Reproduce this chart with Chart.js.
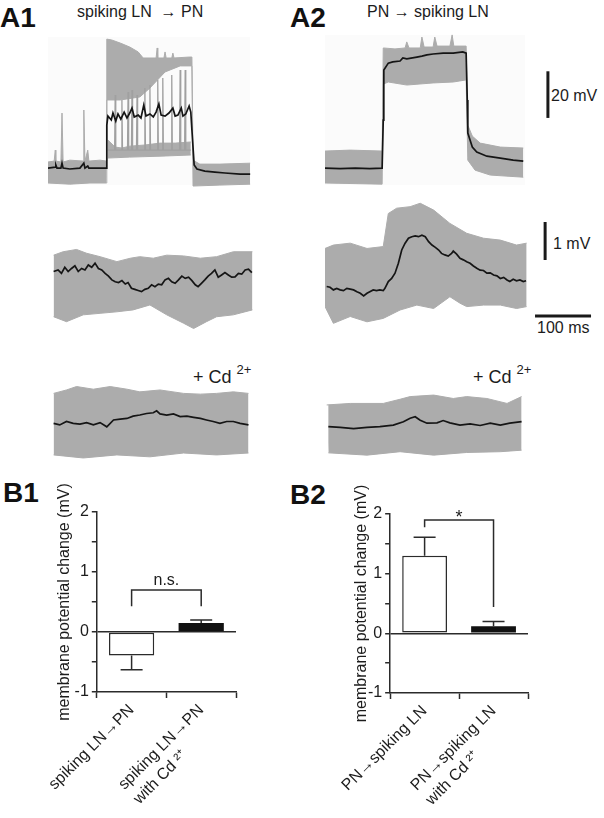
<!DOCTYPE html>
<html>
<head>
<meta charset="utf-8">
<script src="https://cdn.jsdelivr.net/npm/chart.js@4.4.0/dist/chart.umd.min.js"></script>
<style>
  body { margin: 0; width: 604px; height: 818px; position: relative; overflow: hidden; background: #fff;
         font-family: 'Liberation Sans', Arial, sans-serif; color: #1c1c1c; }
  canvas, .txt, .bg { position: absolute; }
  .txt { line-height: 1; white-space: pre; }
  .panel { font-size: 28px; font-weight: bold; color: #111; }
  .head { font-size: 16px; }
  .bar-lbl { font-size: 16px; }
  .cd { font-size: 18px; }
  .cd sup { font-size: 13px; vertical-align: 9px; line-height: 0; }
  .bg { background: #fbfbfb; }
</style>
</head>
<body>

<div class="bg" style="left:48px; top:37px; width:202px; height:148px;"></div>
<div class="bg" style="left:325px; top:35px; width:200px; height:150px;"></div>

<div class="txt panel" style="left:0px; top:4px;">A1</div>
<div class="txt panel" style="left:290px; top:4px;">A2</div>
<div class="txt panel" style="left:3px; top:479px;">B1</div>
<div class="txt panel" style="left:290px; top:481px;">B2</div>

<div class="txt head" style="left:77px; top:4px;">spiking LN  → PN</div>
<div class="txt head" style="left:367px; top:4px;">PN → spiking LN</div>

<div class="txt bar-lbl" style="left:551px; top:88px;">20 mV</div>
<div class="txt bar-lbl" style="left:553px; top:236px;">1 mV</div>
<div class="txt bar-lbl" style="left:537px; top:320px;">100 ms</div>

<div class="txt cd" style="left:193px; top:368px;">+ Cd <sup>2+</sup></div>
<div class="txt cd" style="left:473px; top:368px;">+ Cd <sup>2+</sup></div>

<canvas id="a1Top" width="210" height="160" style="left:48px; top:30px;"></canvas>
<canvas id="a2Top" width="275" height="160" style="left:325px; top:30px;"></canvas>
<canvas id="a1Mid" width="210" height="100" style="left:48px; top:240px;"></canvas>
<canvas id="a2Mid" width="275" height="137" style="left:325px; top:198px;"></canvas>
<canvas id="a1Bot" width="210" height="85" style="left:48px; top:380px;"></canvas>
<canvas id="a2Bot" width="275" height="72" style="left:325px; top:388px;"></canvas>
<canvas id="b1" width="210" height="338" style="left:35px; top:480px;"></canvas>
<canvas id="b2" width="211" height="338" style="left:328px; top:480px;"></canvas>

<script>
// ── traces: [time (ms), membrane potential (mV)] ──

// A1 top: spiking LN current step, recorded in LN (mean + spread of trials)
const A1_TOP_MEAN = [[0,0],[13,0.4],[14,1.3],[16,0],[23,0],[25,2.1],[27,0],[39,-0.4],[57,0],[64,2.1],[66,0],[71,0.9],[73,0],[93,0],[104,0],
  [105,18.4],[107,22.3],[113,20.6],[116,23.6],[121,20.2],[125,23.2],[130,21.0],[136,24.0],[141,21.5],[146,23.6],[150,25.7],[154,21.9],
  [161,22.7],[166,21.5],[171,27.0],[175,22.3],[182,23.2],[188,21.9],[193,24.0],[198,27.5],[202,22.7],[209,22.3],[216,23.6],[223,25.7],
  [227,22.3],[232,22.7],[238,25.7],[241,22.3],[246,23.2],[252,26.6],[255,24.0],[257,16.3],[261,1.3],[266,-0.4],[280,-1.3],[298,-1.7],
  [316,-2.1],[343,-2.6],[361,-2.6]];
const A1_TOP_UPPER = [[0,2.6],[11,3.0],[13,7.7],[14,3.0],[23,2.6],[25,23.6],[27,2.6],[39,3.4],[63,3.0],[64,24.9],[66,3.0],[71,7.7],[73,3.0],
  [93,3.4],[104,3.0],[105,55.3],[114,54.9],[129,53.6],[146,51.9],[161,49.8],[170,47.2],[193,47.2],[195,51.5],[196,47.2],[207,47.2],
  [209,49.8],[211,47.2],[221,47.2],[223,49.3],[225,47.2],[252,47.6],[257,47.6],[259,3.4],[271,1.7],[307,1.7],[361,2.1]];
const A1_TOP_LOWER = [[0,-6.4],[39,-6.9],[75,-6.4],[104,-6.4],[105,29.2],[129,29.2],[164,30.5],[182,34.3],[209,41.2],[236,43.8],[257,43.8],
  [259,-7.7],[307,-7.3],[361,-6.9]];
const A1_TOP_LOW_UPPER = [[107,12.0],[120,9.0],[132,8.6],[146,9.4],[173,9.9],[200,10.7],[227,10.7],[255,11.2]];
const A1_TOP_LOW_LOWER = [[107,4.3],[146,4.7],[200,5.1],[255,5.6]];
const A1_SPIKE_T = [120, 132, 143, 150, 159, 173, 182, 196, 205, 221, 236, 245];
const A1_SPIKE_PEAK = [31.3, 29.2, 32.6, 33.5, 31.3, 34.3, 35.6, 37.8, 38.6, 39.9, 42.0, 42.0];
const A1_SPIKE_BASE = 7.7;

// A2 top: PN current step
const A2_TOP_MEAN = [[0,0],[27,-0.2],[54,0],[80,-0.2],[102,0],[104,20.6],[105,42.0],[113,45.0],[121,45.5],[134,45.9],[139,47.2],[146,46.8],
  [164,47.6],[173,48.0],[182,48.5],[193,48.9],[211,49.3],[229,49.3],[246,49.8],[252,49.3],[254,29.2],[255,15.0],[263,9.0],[271,6.9],
  [289,5.1],[313,4.3],[336,3.4],[354,3.0]];
const A2_TOP_UPPER = [[0,7.3],[45,7.7],[102,7.3],[104,51.5],[125,51.1],[143,51.5],[146,54.1],[150,51.5],[170,51.5],[173,56.2],[177,51.9],
  [193,51.9],[196,56.2],[200,52.3],[223,52.3],[227,57.1],[230,52.3],[252,52.3],[255,18.4],[263,13.7],[277,10.7],[313,9.0],[354,8.6]];
const A2_TOP_LOWER = [[0,-6.4],[102,-6.9],[104,36.0],[113,36.9],[146,35.6],[193,36.5],[229,36.9],[252,37.8],[255,3.4],[268,-0.9],
  [295,-3.0],[354,-3.9]];

// A1 / A2 middle: postsynaptic response
const A1_MID_MEAN = [[10,-0.04],[18,0],[24,-0.09],[30,0.07],[36,-0.04],[42,0.04],[48,0.11],[54,-0.04],[60,0.04],[66,0],[72,0.13],[78,0.07],
  [84,0.18],[90,0.04],[96,0],[102,-0.09],[108,-0.16],[114,-0.26],[120,-0.31],[126,-0.33],[132,-0.28],[138,-0.37],[143,-0.33],[149,-0.48],
  [155,-0.51],[161,-0.54],[167,-0.57],[173,-0.51],[179,-0.48],[185,-0.39],[191,-0.44],[197,-0.37],[203,-0.39],[209,-0.26],[215,-0.22],
  [221,-0.31],[227,-0.35],[233,-0.26],[239,-0.16],[245,-0.22],[251,-0.19],[257,-0.28],[263,-0.39],[268,-0.44],[274,-0.35],[280,-0.26],
  [286,-0.16],[292,-0.09],[298,0],[304,-0.19],[310,-0.13],[316,-0.07],[322,-0.13],[328,-0.19],[334,-0.18],[340,-0.09],[346,-0.11],
  [352,0],[358,0.02],[364,-0.07]];
const A1_MID_UPPER = [[10,0.39],[27,0.48],[51,0.54],[69,0.44],[93,0.35],[123,0.22],[147,0.31],[164,0.35],[188,0.31],[212,0.39],[242,0.37],
  [272,0.31],[301,0.35],[331,0.48],[365,0.48]];
const A1_MID_LOWER = [[10,-1.23],[33,-1.36],[63,-1.18],[93,-1.14],[123,-1.10],[152,-1.05],[182,-0.92],[212,-1.18],[242,-1.40],[260,-1.54],
  [283,-1.36],[301,-1.23],[331,-1.18],[365,-1.05]];

const A2_MID_MEAN = [[3,0.04],[9,0.02],[15,-0.05],[21,-0.01],[27,-0.05],[33,-0.07],[39,-0.01],[45,-0.03],[51,-0.05],[57,-0.10],[63,-0.14],
  [69,-0.21],[75,-0.14],[80,-0.10],[86,-0.05],[92,-0.07],[98,-0.05],[104,-0.07],[107,-0.01],[113,0.17],[119,0.25],[125,0.39],[131,0.65],
  [137,1.00],[143,1.18],[149,1.31],[155,1.35],[161,1.37],[167,1.35],[173,1.39],[179,1.35],[185,1.22],[191,1.13],[197,1.07],[203,1.00],
  [208,0.91],[214,0.87],[220,0.84],[226,0.91],[229,0.97],[235,0.89],[241,0.78],[247,0.74],[253,0.69],[259,0.65],[265,0.58],[271,0.52],
  [277,0.47],[283,0.46],[289,0.39],[295,0.40],[301,0.34],[307,0.32],[313,0.25],[319,0.28],[325,0.21],[330,0.17],[336,0.23],[342,0.19],
  [348,0.21],[354,0.17],[359,0.19]];
const A2_MID_UPPER = [[0,1.04],[15,1.13],[45,1.18],[75,1.04],[104,1.09],[113,1.96],[128,2.10],[152,2.14],[170,2.23],[194,2.05],[223,1.70],
  [253,1.44],[283,1.31],[313,1.26],[342,1.13],[360,1.18]];
const A2_MID_LOWER = [[0,-0.49],[15,-0.93],[45,-0.75],[75,-0.89],[104,-0.80],[134,-0.58],[164,-0.45],[194,-0.54],[223,-0.23],[241,-0.40],
  [253,-0.49],[283,-0.45],[313,-0.45],[342,-0.54],[360,-0.49]];

// A1 / A2 bottom: same pairs with Cd2+
const A1_BOT_MEAN = [[10,-0.01],[21,-0.05],[33,0.04],[45,-0.01],[57,-0.03],[69,0.01],[81,-0.05],[93,0.01],[105,-0.10],[117,0.08],[129,0.10],
  [141,0.12],[152,0.18],[164,0.21],[176,0.25],[188,0.27],[194,0.32],[200,0.24],[212,0.21],[224,0.24],[236,0.17],[248,0.18],[260,0.15],
  [272,0.12],[283,0.08],[295,0.04],[307,-0.01],[319,0.04],[331,0.04],[343,-0.01],[358,-0.05]];
const A1_BOT_UPPER = [[10,0.78],[33,0.87],[51,0.96],[81,0.89],[111,0.96],[141,0.89],[164,0.82],[200,0.87],[242,0.78],[272,0.76],[301,0.78],
  [331,0.82],[358,0.78]];
const A1_BOT_LOWER = [[10,-0.84],[63,-0.92],[123,-0.84],[182,-0.89],[242,-0.79],[301,-0.84],[358,-0.79]];

const A2_BOT_MEAN = [[6,0.01],[27,-0.01],[51,-0.04],[75,-0.01],[98,0.01],[122,0.05],[140,0.14],[152,0.23],[161,0.27],[170,0.18],[182,0.10],
  [200,0.11],[211,0.17],[223,0.11],[241,0.05],[259,0.08],[277,0.04],[295,0.10],[313,0.05],[330,0.10],[351,0.14]];
const A2_BOT_UPPER = [[3,0.58],[45,0.62],[104,0.62],[134,0.73],[152,0.80],[194,0.84],[229,0.75],[253,0.80],[289,0.75],[325,0.62],[351,0.80]];
const A2_BOT_LOWER = [[6,-0.68],[75,-0.74],[134,-0.65],[194,-0.74],[253,-0.67],[313,-0.65],[351,-0.61]];

// scale bars
const SCALE_MV_TOP = 20;
const SCALE_MV_SMALL = 1;
const SCALE_MS = 100;

// ── B: membrane potential change (mV), mean and s.e.m. ──
const B1_LABELS = ['spiking LN→PN', ['spiking LN→PN', 'with Cd ²⁺']];
const B1_MEAN = [-0.39, 0.15];
const B1_SEM = [0.24, 0.05];
const B2_LABELS = ['PN→spiking LN', ['PN→spiking LN', 'with Cd ²⁺']];
const B2_MEAN = [1.30, 0.12];
const B2_SEM = [0.31, 0.08];

const GRAY = '#acacac';
const BLACK = '#151515';
const AXIS = '#2b2b2b';
const FONT = "'Liberation Sans', Arial, sans-serif";
const LABEL_PX = 16;

Chart.defaults.font.family = FONT;
Chart.defaults.color = '#1c1c1c';

// ─────────────────────────────────────────────────────────────────────────────

function pts(arr) {
  return arr.map(([x, y]) => ({ x, y }));
}

function band(upper, lower) {
  return [
    { data: pts(upper), borderColor: GRAY, backgroundColor: GRAY, borderWidth: 1, fill: '+1', order: 5 },
    { data: pts(lower), borderColor: GRAY, borderWidth: 1, fill: false, order: 5 },
  ];
}

function meanLine(arr) {
  return { data: pts(arr), borderColor: BLACK, borderWidth: 1.7, fill: false, order: 0 };
}

function scaleBar(from, to) {
  return { data: [from, to], borderColor: '#1a1a1a', borderWidth: 3, borderCapStyle: 'butt', fill: false, order: 0 };
}

function spikeTrain(times, peaks, base, start, end) {
  const out = [{ x: start, y: base }];
  times.forEach((t, i) => {
    out.push({ x: t - 1, y: base }, { x: t, y: peaks[i] }, { x: t + 1, y: base });
  });
  out.push({ x: end, y: base });
  return { data: out, borderColor: '#a0a0a0', borderWidth: 1.3, fill: false, order: 4 };
}

// second label line is left-aligned under the first in the original,
// Chart.js right-aligns rotated lines, so pad it to the same width
function leftAlignLines(label) {
  if (!Array.isArray(label)) return label;
  const c = document.createElement('canvas').getContext('2d');
  c.font = LABEL_PX + 'px ' + FONT;
  const w = c.measureText(label[0]).width;
  return label.map(line => {
    let s = line;
    while (c.measureText(s + '\u00a0').width <= w) s += '\u00a0';
    return s;
  });
}

function traceChart(id, xMax, yMin, yMax, datasets) {
  return new Chart(document.getElementById(id), {
    type: 'line',
    data: { datasets },
    options: {
      responsive: false,
      animation: false,
      devicePixelRatio: 1,
      layout: { padding: 0 },
      elements: { point: { radius: 0 }, line: { tension: 0 } },
      plugins: { legend: { display: false }, tooltip: { enabled: false } },
      scales: {
        x: { type: 'linear', min: 0, max: xMax, display: false },
        y: { min: yMin, max: yMax, display: false },
      },
    },
  });
}

// error bars + significance bracket
const errorBars = {
  id: 'errorBars',
  afterDatasetsDraw(chart, args, opts) {
    const { ctx, scales: { y } } = chart;
    const bars = chart.getDatasetMeta(0).data;
    ctx.save();
    ctx.strokeStyle = AXIS;
    ctx.lineWidth = 1.5;
    bars.forEach((bar, i) => {
      const m = opts.mean[i];
      const tip = y.getPixelForValue(m + Math.sign(m) * opts.sem[i]);
      ctx.beginPath();
      ctx.moveTo(bar.x, y.getPixelForValue(m));
      ctx.lineTo(bar.x, tip);
      ctx.moveTo(bar.x - 11, tip);
      ctx.lineTo(bar.x + 11, tip);
      ctx.stroke();
    });
    const top = y.getPixelForValue(opts.bracket.top);
    ctx.beginPath();
    ctx.moveTo(bars[0].x, y.getPixelForValue(opts.bracket.legs[0]));
    ctx.lineTo(bars[0].x, top);
    ctx.lineTo(bars[1].x, top);
    ctx.lineTo(bars[1].x, y.getPixelForValue(opts.bracket.legs[1]));
    ctx.stroke();
    ctx.fillStyle = '#1c1c1c';
    ctx.font = opts.bracket.font;
    ctx.textAlign = 'center';
    ctx.textBaseline = 'alphabetic';
    ctx.fillText(opts.bracket.text, (bars[0].x + bars[1].x) / 2, top + opts.bracket.textDy);
    ctx.restore();
  },
};

function barChart(id, labels, mean, sem, bracket, pad) {
  return new Chart(document.getElementById(id), {
    type: 'bar',
    data: {
      labels: labels.map(leftAlignLines),
      datasets: [{
        data: mean,
        backgroundColor: ['#ffffff', '#111111'],
        borderColor: AXIS,
        borderWidth: [1.5, 0],
        borderSkipped: false,
        barPercentage: 0.65,
        categoryPercentage: 1,
      }],
    },
    options: {
      responsive: false,
      animation: false,
      devicePixelRatio: 1,
      layout: { padding: { top: pad.top, right: pad.right, left: 0, bottom: 0 } },
      plugins: {
        legend: { display: false },
        tooltip: { enabled: false },
        errorBars: { mean, sem, bracket },
      },
      scales: {
        x: {
          grid: { drawOnChartArea: false, tickLength: 6, tickColor: AXIS, tickWidth: 1.5 },
          border: { color: AXIS, width: 1.5 },
          ticks: { minRotation: 45, maxRotation: 45, padding: 2, font: { size: LABEL_PX, lineHeight: 1.3 }, color: '#1c1c1c' },
          afterFit: s => { s.height = pad.xHeight; },
        },
        y: {
          min: -1,
          max: 2,
          grid: {
            color: c => (c.tick && c.tick.value === 0 ? AXIS : 'rgba(0,0,0,0)'),
            lineWidth: 1.5,
            tickLength: 5,
            tickColor: AXIS,
            tickWidth: 1.5,
          },
          border: { color: AXIS, width: 1.5 },
          ticks: {
            stepSize: 0.5,
            padding: 3,
            font: { size: 16 },
            color: '#1c1c1c',
            callback: v => (Number.isInteger(v) ? String(v) : ''),
          },
          title: {
            display: true,
            text: 'membrane potential change (mV)',
            font: { size: 16 },
            color: '#1c1c1c',
            padding: { top: pad.titleOffset, bottom: 0 },
          },
          afterFit: s => { s.width = 59; },
        },
      },
    },
    plugins: [errorBars],
  });
}

// ─────────────────────────────────────────────────────────────────────────────

traceChart('a1Top', 375, -9.4, 59.2, [
  meanLine(A1_TOP_MEAN),
  ...band(A1_TOP_UPPER, A1_TOP_LOWER),
  ...band(A1_TOP_LOW_UPPER, A1_TOP_LOW_LOWER),
  spikeTrain(A1_SPIKE_T, A1_SPIKE_PEAK, A1_SPIKE_BASE, 107, 255),
]);

traceChart('a2Top', 491, -9.4, 59.2, [
  meanLine(A2_TOP_MEAN),
  ...band(A2_TOP_UPPER, A2_TOP_LOWER),
  scaleBar({ x: 398, y: 21.5 }, { x: 398, y: 21.5 + SCALE_MV_TOP }),
]);

traceChart('a1Mid', 375, -1.842, 0.789, [
  meanLine(A1_MID_MEAN),
  ...band(A1_MID_UPPER, A1_MID_LOWER),
]);

traceChart('a2Mid', 491, -1.237, 2.368, [
  meanLine(A2_MID_MEAN),
  ...band(A2_MID_UPPER, A2_MID_LOWER),
  scaleBar({ x: 393, y: 0.737 }, { x: 393, y: 0.737 + SCALE_MV_SMALL }),
  scaleBar({ x: 375, y: -0.737 }, { x: 375 + SCALE_MS, y: -0.737 }),
]);

traceChart('a1Bot', 375, -1.105, 1.132, [
  meanLine(A1_BOT_MEAN),
  ...band(A1_BOT_UPPER, A1_BOT_LOWER),
]);

traceChart('a2Bot', 491, -0.868, 1.026, [
  meanLine(A2_BOT_MEAN),
  ...band(A2_BOT_UPPER, A2_BOT_LOWER),
]);

barChart('b1', B1_LABELS, B1_MEAN, B1_SEM,
  { top: 0.70, legs: [0.43, 0.43], text: 'n.s.', font: '16px ' + FONT, textDy: -5 },
  { top: 32, right: 9, xHeight: 126, titleOffset: 17 });

barChart('b2', B2_LABELS, B2_MEAN, B2_SEM,
  { top: 1.90, legs: [1.78, 0.44], text: '*', font: '18px ' + FONT, textDy: 3 },
  { top: 34, right: 11, xHeight: 125, titleOffset: 21 });
</script>
</body>
</html>
